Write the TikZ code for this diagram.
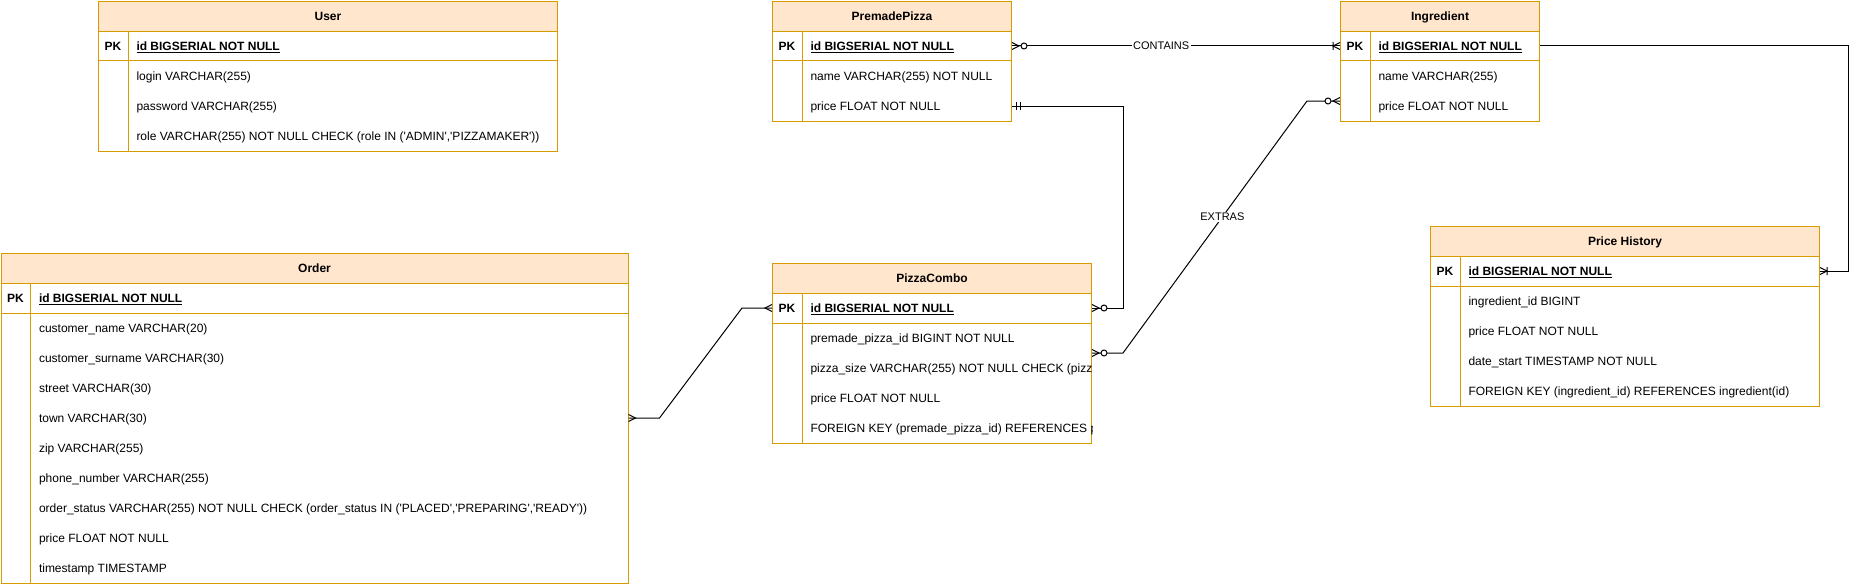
\documentclass[tikz,border=0pt]{standalone}
\usepackage{fontspec}
\setmainfont{Liberation Sans}[Ligatures=TeXOff]
\usetikzlibrary{positioning, calc}

\definecolor{tblline}{HTML}{D79B00}
\definecolor{tblfill}{HTML}{FFE6CC}

\begin{document}
\begin{tikzpicture}[x=0.75pt, y=-0.75pt, line width=0.75pt,
    font=\fontsize{9}{11}\selectfont,
    tbl/.style 2 args={draw=tblline, fill=white, anchor=north west, inner sep=0pt,
      minimum width=#1*0.75pt, minimum height=#2*0.75pt},
    head/.style={draw=tblline, fill=tblfill, anchor=north west, inner sep=0pt,
      minimum width=#1*0.75pt, minimum height=22.5pt, text height=8.4pt, text depth=2pt,
      font=\fontsize{9}{11}\selectfont\bfseries},
    pk/.style={inner sep=0pt, text height=8.4pt, text depth=2pt,
      font=\fontsize{9}{11}\selectfont\bfseries},
    field/.style={anchor=west, inner sep=0pt, text height=8.4pt, text depth=2pt},
    grid/.style={draw=tblline},
    conn/.style={draw=black},
    lbl/.style={fill=white, inner sep=1pt, font=\fontsize{8.25}{10}\selectfont},
    many/.pic={\draw (0,-3.5) -- (7,0) -- (0,3.5);},
    zmany/.pic={\draw (0,-3.5) -- (7,0) -- (0,3.5); \draw [fill=white] (12,0) circle [radius=3];},
    onemany/.pic={\draw (0,-3.5) -- (7,0) -- (0,3.5) (7,-4) -- (7,4);},
    mone/.pic={\draw (4,-4) -- (4,4) (8,-4) -- (8,4);}]

  \useasboundingbox (0,0) rectangle (1859,585);

  % User
  \node (user) [tbl={459}{150}] at (98,1) {};
  \node (user-head) [head=459] at (user.north west) {User};
  \draw [grid] ($(user.north west)+(0,60)$) -- ($(user.north east)+(0,60)$);
  \draw [grid] ($(user.north west)+(30,30)$) -- ($(user.south west)+(30,0)$);
  \node (user-pk) [pk] at ($(user.north west)+(15,45)$) {PK};
  \node (user-id) [field] at ($(user.north west)+(38,45)$) {\bfseries\underline{id BIGSERIAL NOT NULL}};
  \foreach \f [count=\i] in {login VARCHAR(255), password VARCHAR(255),
      {role VARCHAR(255) NOT NULL CHECK (role IN ('ADMIN','PIZZAMAKER'))}}
    \node (user-\i) [field] at ($(user.north west)+(38,45+30*\i)$) {\f};

  % PremadePizza
  \node (premade) [tbl={239}{120}] at (772,1) {};
  \node (premade-head) [head=239] at (premade.north west) {PremadePizza};
  \draw [grid] ($(premade.north west)+(0,60)$) -- ($(premade.north east)+(0,60)$);
  \draw [grid] ($(premade.north west)+(30,30)$) -- ($(premade.south west)+(30,0)$);
  \node (premade-pk) [pk] at ($(premade.north west)+(15,45)$) {PK};
  \node (premade-id) [field] at ($(premade.north west)+(38,45)$) {\bfseries\underline{id BIGSERIAL NOT NULL}};
  \foreach \f [count=\i] in {name VARCHAR(255) NOT NULL, price FLOAT NOT NULL}
    \node (premade-\i) [field] at ($(premade.north west)+(38,45+30*\i)$) {\f};

  % Ingredient
  \node (ingr) [tbl={199}{120}] at (1340,1) {};
  \node (ingr-head) [head=199] at (ingr.north west) {Ingredient};
  \draw [grid] ($(ingr.north west)+(0,60)$) -- ($(ingr.north east)+(0,60)$);
  \draw [grid] ($(ingr.north west)+(30,30)$) -- ($(ingr.south west)+(30,0)$);
  \node (ingr-pk) [pk] at ($(ingr.north west)+(15,45)$) {PK};
  \node (ingr-id) [field] at ($(ingr.north west)+(38,45)$) {\bfseries\underline{id BIGSERIAL NOT NULL}};
  \foreach \f [count=\i] in {name VARCHAR(255), price FLOAT NOT NULL}
    \node (ingr-\i) [field] at ($(ingr.north west)+(38,45+30*\i)$) {\f};

  % Order
  \node (order) [tbl={627}{330}] at (0.5,253) {};
  \node (order-head) [head=627] at (order.north west) {Order};
  \draw [grid] ($(order.north west)+(0,60)$) -- ($(order.north east)+(0,60)$);
  \draw [grid] ($(order.north west)+(30,30)$) -- ($(order.south west)+(30,0)$);
  \node (order-pk) [pk] at ($(order.north west)+(15,45)$) {PK};
  \node (order-id) [field] at ($(order.north west)+(38,45)$) {\bfseries\underline{id BIGSERIAL NOT NULL}};
  \foreach \f [count=\i] in {customer\_name VARCHAR(20), customer\_surname VARCHAR(30),
      street VARCHAR(30), town VARCHAR(30), zip VARCHAR(255), phone\_number VARCHAR(255),
      {order\_status VARCHAR(255) NOT NULL CHECK (order\_status IN ('PLACED','PREPARING','READY'))},
      price FLOAT NOT NULL, timestamp TIMESTAMP}
    \node (order-\i) [field] at ($(order.north west)+(38,45+30*\i)$) {\f};

  % PizzaCombo
  \node (combo) [tbl={319}{180}] at (772,263) {};
  \node (combo-head) [head=319] at (combo.north west) {PizzaCombo};
  \draw [grid] ($(combo.north west)+(0,60)$) -- ($(combo.north east)+(0,60)$);
  \draw [grid] ($(combo.north west)+(30,30)$) -- ($(combo.south west)+(30,0)$);
  \node (combo-pk) [pk] at ($(combo.north west)+(15,45)$) {PK};
  \node (combo-id) [field] at ($(combo.north west)+(38,45)$) {\bfseries\underline{id BIGSERIAL NOT NULL}};
  \begin{scope}
    \clip (combo.north west) rectangle (combo.south east);
    \foreach \f [count=\i] in {premade\_pizza\_id BIGINT NOT NULL,
        pizza\_size VARCHAR(255) NOT NULL CHECK (pizz, price FLOAT NOT NULL,
        FOREIGN KEY (premade\_pizza\_id) REFERENCES p}
      \node (combo-\i) [field] at ($(combo.north west)+(38,45+30*\i)$) {\f};
  \end{scope}

  % Price History
  \node (hist) [tbl={389}{180}] at (1430,226) {};
  \node (hist-head) [head=389] at (hist.north west) {Price History};
  \draw [grid] ($(hist.north west)+(0,60)$) -- ($(hist.north east)+(0,60)$);
  \draw [grid] ($(hist.north west)+(30,30)$) -- ($(hist.south west)+(30,0)$);
  \node (hist-pk) [pk] at ($(hist.north west)+(15,45)$) {PK};
  \node (hist-id) [field] at ($(hist.north west)+(38,45)$) {\bfseries\underline{id BIGSERIAL NOT NULL}};
  \foreach \f [count=\i] in {ingredient\_id BIGINT, price FLOAT NOT NULL,
      date\_start TIMESTAMP NOT NULL, FOREIGN KEY (ingredient\_id) REFERENCES ingredient(id)}
    \node (hist-\i) [field] at ($(hist.north west)+(38,45+30*\i)$) {\f};

  % relations
  \coordinate (combo-12) at ($(combo-1)!0.5!(combo-2)$);
  \coordinate (extras-a) at (combo-12 -| combo.east);
  \coordinate (extras-b) at ($(ingr-2 -| ingr.west)+(0,-5)$);

  \draw [conn] (premade-id -| premade.east) -- node [lbl, pos=0.455] {CONTAINS} (ingr-id -| ingr.west);
  \draw [conn] (premade-2 -| premade.east) -- ++(111,0) |- (combo-id -| combo.east);
  \draw [conn] (extras-a) -- ++(31,0) -- node [lbl, pos=0.54] {EXTRAS} ($(extras-b)+(-33,0)$) -- (extras-b);
  \draw [conn] (order-4 -| order.east) -- ++(31,0) -- ($(combo-id -| combo.west)+(-30,0)$) -- (combo-id -| combo.west);
  \draw [conn] (ingr-id -| ingr.east) -- ++(308,0) |- (hist-id -| hist.east);

  \pic at (premade-id -| premade.east) {zmany};
  \pic [rotate=180] at (ingr-id -| ingr.west) {onemany};
  \pic at (premade-2 -| premade.east) {mone};
  \pic at (combo-id -| combo.east) {zmany};
  \pic at (extras-a) {zmany};
  \pic [rotate=180] at (extras-b) {zmany};
  \pic at (order-4 -| order.east) {many};
  \pic [rotate=180] at (combo-id -| combo.west) {many};
  \pic at (hist-id -| hist.east) {onemany};
\end{tikzpicture}
\end{document}
